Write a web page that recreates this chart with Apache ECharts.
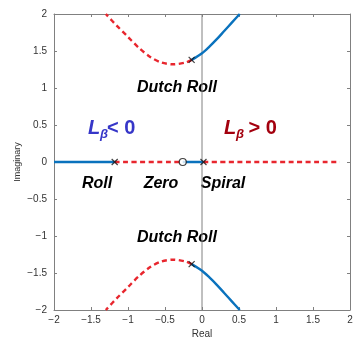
<!DOCTYPE html>
<html>
<head>
<meta charset="utf-8">
<script src="https://cdn.jsdelivr.net/npm/echarts@6/dist/echarts.min.js"></script>
<style>html,body{margin:0;padding:0;background:#fff}#c{width:360px;height:349px}</style>
</head>
<body>
<div id="c"></div>
<script>
// ---- data ----
const tickValues = [-2, -1.5, -1, -0.5, 0, 0.5, 1, 1.5, 2];
// real-axis locus segments
const blueRealA_re = [-2, -1.18];
const blueRealB_re = [-0.26, 0.02];
const redRealA_re = [-1.18, -0.26];
const redRealB_re = [0.02, 1.86];
// Dutch roll upper branch (lower branch is the conjugate)
const dutchBlue_re = [-0.14, 0.0, 0.1, 0.2, 0.3, 0.4, 0.51];
const dutchBlue_im = [1.38, 1.47, 1.56, 1.66, 1.77, 1.88, 2.0];
const dutchRed_re = [-0.14, -0.22, -0.39, -0.55, -0.70, -0.85, -1.0, -1.15, -1.30];
const dutchRed_im = [1.38, 1.345, 1.32, 1.345, 1.42, 1.54, 1.69, 1.84, 2.0];
// poles and zero
const pole_re = [-1.18, 0.02, -0.14, -0.14];
const pole_im = [0, 0, 1.38, -1.38];
const zero_re = [-0.26];
const zero_im = [0];

const BLUE = '#0a72bd', RED = '#e8262e';
const pts = (re, im) => re.map((r, i) => [r, im ? im[i] : 0]);
const conj = (re, im) => re.map((r, i) => [r, -im[i]]);

const chart = echarts.init(document.getElementById('c'), null, {renderer: 'canvas'});
const fmt = v => (v < 0 ? '\u2212' + Math.abs(v) : String(v));
const axisCommon = {
  min: -2, max: 2, interval: 0.5,
  axisLine: {onZero: false, lineStyle: {color: '#808080', width: 1}},
  axisTick: {inside: true, length: 3, lineStyle: {color: '#808080'}},
  splitLine: {show: false},
  axisLabel: {color: '#333', fontSize: 10, fontFamily: 'Liberation Sans, Arial, sans-serif', formatter: fmt}
};
const lineS = (data, color, dashed) => ({
  type: 'line', data, symbol: 'none', smooth: 0.3, silent: true, z: 3,
  lineStyle: {color, width: 2.4, type: dashed ? [5, 3.5] : 'solid'}
});
chart.setOption({
  animation: false,
  grid: {left: 54, right: 10, top: 14, bottom: 39},
  xAxis: [
    Object.assign({}, axisCommon, {type: 'value', position: 'bottom', name: 'Real', nameLocation: 'middle', nameGap: 19,
      nameMoveOverlap: false,
      nameTextStyle: {color: '#333', fontSize: 10, fontFamily: 'Liberation Sans, Arial, sans-serif'},
      axisLabel: Object.assign({}, axisCommon.axisLabel, {margin: 5})}),
    Object.assign({}, axisCommon, {type: 'value', position: 'top', axisLabel: {show: false}})
  ],
  yAxis: [
    Object.assign({}, axisCommon, {type: 'value', position: 'left', name: 'Imaginary', nameLocation: 'middle', nameGap: 32,
      nameMoveOverlap: false,
      nameTextStyle: {color: '#333', fontSize: 9, fontFamily: 'Liberation Sans, Arial, sans-serif'},
      axisLabel: Object.assign({}, axisCommon.axisLabel, {margin: 7})}),
    Object.assign({}, axisCommon, {type: 'value', position: 'right', axisLabel: {show: false}})
  ],
  series: [
    {type: 'line', data: [[0, -2], [0, 2]], symbol: 'none', silent: true, z: 1,
      lineStyle: {color: '#808080', width: 1}},
    lineS(pts(blueRealA_re), BLUE, false),
    lineS(pts(blueRealB_re), BLUE, false),
    lineS(pts(redRealA_re), RED, true),
    lineS(pts(redRealB_re), RED, true),
    lineS(pts(dutchBlue_re, dutchBlue_im), BLUE, false),
    lineS(conj(dutchBlue_re, dutchBlue_im), BLUE, false),
    lineS(pts(dutchRed_re, dutchRed_im), RED, true),
    lineS(conj(dutchRed_re, dutchRed_im), RED, true),
    {type: 'scatter', data: pts(pole_re, pole_im), z: 5, silent: true,
      symbol: 'path://M0,0L10,10M10,0L0,10', symbolSize: 6,
      itemStyle: {color: 'none', borderColor: '#111', borderWidth: 1.2}},
    {type: 'scatter', data: pts(zero_re, zero_im), z: 5, silent: true,
      symbol: 'circle', symbolSize: 7,
      itemStyle: {color: '#fff', borderColor: '#111', borderWidth: 1.2}}
  ],
  graphic: (function () {
    const F = 'Liberation Sans, Arial, Helvetica, sans-serif';
    const lab = (x, y, t) => ({type: 'text', x, y, silent: true,
      style: {text: t, fill: '#000', font: 'italic bold 16px ' + F, align: 'center', verticalAlign: 'middle'}});
    const seg = (x, y, t, size, color, italic) => ({type: 'text', x, y, silent: true,
      style: {text: t, fill: color, font: (italic ? 'italic ' : '') + 'bold ' + size + 'px ' + F, align: 'left', verticalAlign: 'middle'}});
    const B1 = '#3636c8', R1 = '#a3000e';
    return [
      lab(177, 88, 'Dutch Roll'),
      lab(177, 238, 'Dutch Roll'),
      lab(97, 184, 'Roll'),
      lab(161, 184, 'Zero'),
      lab(223, 184, 'Spiral'),
      seg(88, 128, 'L', 20, B1, true),
      seg(100, 134, '\u03b2', 13, B1, true),
      seg(107, 128, '< 0', 20, B1, false),
      seg(224, 128, 'L', 20, R1, true),
      seg(236, 134, '\u03b2', 13, R1, true),
      seg(243, 128, ' > 0', 20, R1, false)
    ];
  })()
});
</script>
</body>
</html>
